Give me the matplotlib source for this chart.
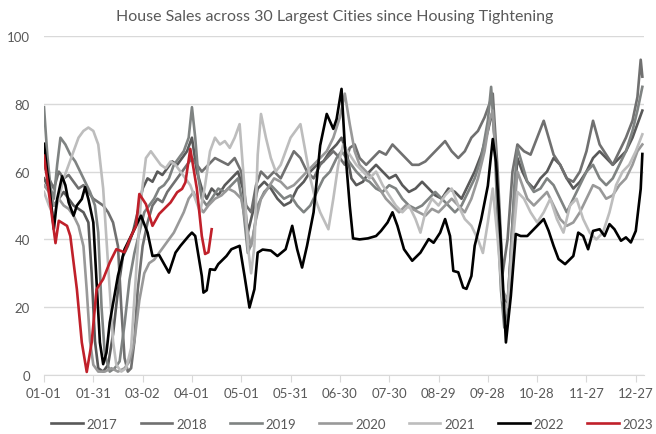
import matplotlib
matplotlib.use("Agg")
import matplotlib.pyplot as plt

plt.rcParams['font.family'] = ['Lato', 'DejaVu Sans']

title = "House Sales across 30 Largest Cities since Housing Tightening"
tick_days = [0, 30, 60, 90, 120, 150, 180, 210, 240, 270, 300, 330, 360]
tick_labels = ['01-01', '01-31', '03-02', '04-01', '05-01', '05-31', '06-30',
               '07-30', '08-29', '09-28', '10-28', '11-27', '12-27']
years = ['2017', '2018', '2019', '2020', '2021', '2022', '2023']
colors = ['#595959', '#707070', '#7f8382', '#999999', '#bdbdbd', '#000000', '#c0202a']

# ---- series: (day of year, value) key points ----
d2017 = [0, 3, 6, 9, 12, 15, 18, 21, 24, 27, 29, 31, 33, 36, 39, 42, 45, 48, 51, 54, 57, 60, 63, 66, 69, 72, 75, 78, 81, 84, 87, 90, 93, 96, 99, 102, 106, 110, 114, 118, 121, 124, 127, 130, 134, 138, 142, 146, 150, 154, 158, 162, 166, 170, 174, 178, 181, 184, 187, 190, 194, 198, 202, 206, 210, 214, 218, 222, 226, 230, 234, 238, 242, 246, 250, 254, 258, 262, 266, 270, 273, 276, 279, 282, 285, 288, 291, 294, 298, 302, 306, 310, 314, 318, 322, 326, 330, 334, 338, 342, 346, 350, 354, 358, 361, 364]
v2017 = [58, 55, 50, 52, 54, 52, 50, 49, 48, 45, 30, 10, 2, 1, 3, 12, 25, 35, 38, 42, 48, 55, 58, 57, 60, 59, 61, 63, 62, 64, 66, 70, 60, 55, 52, 55, 53, 56, 58, 60, 55, 42, 48, 55, 57, 55, 52, 50, 51, 55, 57, 60, 62, 63, 66, 68, 70, 66, 58, 56, 57, 60, 62, 60, 58, 59, 56, 54, 55, 57, 55, 53, 52, 55, 54, 52, 56, 60, 65, 72, 78, 55, 25, 20, 45, 64, 60, 57, 55, 58, 60, 64, 62, 58, 55, 57, 60, 64, 66, 64, 62, 64, 66, 70, 74, 78]

d2018 = [0, 3, 6, 9, 12, 15, 18, 21, 24, 27, 30, 33, 36, 39, 42, 45, 47, 49, 51, 53, 55, 57, 60, 63, 66, 69, 72, 75, 78, 81, 84, 87, 90, 93, 96, 100, 104, 108, 112, 116, 120, 123, 126, 129, 132, 136, 140, 144, 148, 152, 156, 160, 164, 168, 172, 176, 180, 183, 186, 189, 192, 196, 200, 204, 208, 212, 216, 220, 224, 228, 232, 236, 240, 244, 248, 252, 256, 260, 264, 268, 271, 273, 276, 279, 282, 285, 288, 292, 296, 300, 304, 307, 310, 314, 318, 322, 326, 330, 334, 338, 342, 346, 350, 354, 358, 361, 363, 364]
v2018 = [62, 58, 55, 60, 58, 59, 57, 55, 56, 54, 52, 51, 50, 48, 45, 38, 20, 5, 1, 2, 10, 25, 38, 45, 50, 52, 51, 54, 56, 58, 60, 62, 64, 62, 60, 62, 64, 63, 62, 64, 60, 50, 48, 56, 60, 58, 60, 58, 62, 66, 64, 60, 58, 62, 64, 66, 64, 62, 67, 68, 64, 62, 64, 66, 65, 68, 66, 64, 62, 62, 63, 65, 67, 69, 66, 64, 66, 70, 72, 76, 80, 83, 60, 30, 40, 60, 68, 66, 65, 70, 75, 70, 65, 62, 58, 57, 60, 66, 75, 68, 65, 62, 66, 70, 75, 82, 93, 88]

d2019 = [0, 2, 4, 6, 8, 10, 13, 16, 19, 22, 25, 28, 31, 33, 35, 37, 40, 43, 46, 49, 52, 55, 58, 61, 64, 67, 70, 73, 76, 79, 82, 85, 88, 90, 92, 94, 96, 99, 102, 106, 110, 114, 118, 121, 124, 127, 130, 134, 138, 142, 146, 150, 154, 158, 162, 166, 170, 174, 178, 181, 184, 187, 190, 194, 198, 202, 206, 210, 214, 218, 222, 226, 230, 234, 238, 242, 246, 250, 254, 258, 262, 266, 270, 272, 274, 276, 278, 280, 282, 284, 286, 288, 291, 294, 298, 302, 306, 310, 314, 318, 322, 326, 330, 334, 338, 342, 346, 350, 354, 358, 361, 364]
v2019 = [79, 65, 55, 52, 62, 70, 68, 65, 63, 60, 57, 54, 50, 42, 20, 6, 1, 2, 4, 15, 28, 36, 42, 48, 50, 52, 55, 56, 58, 62, 64, 66, 70, 79, 70, 58, 52, 50, 52, 55, 54, 56, 58, 50, 36, 40, 50, 54, 56, 54, 52, 53, 50, 48, 50, 54, 58, 60, 64, 66, 64, 62, 60, 58, 57, 55, 54, 56, 55, 52, 50, 49, 50, 52, 54, 52, 50, 48, 50, 54, 58, 64, 75, 85, 70, 45, 25, 14, 18, 35, 55, 67, 62, 57, 54, 55, 58, 56, 52, 48, 52, 56, 60, 62, 58, 56, 58, 62, 66, 72, 78, 85]

d2020 = [0, 3, 6, 9, 12, 15, 18, 21, 24, 26, 28, 30, 33, 37, 41, 45, 49, 52, 55, 58, 61, 64, 67, 70, 73, 76, 79, 82, 85, 88, 91, 94, 97, 100, 104, 108, 112, 116, 120, 123, 126, 129, 132, 136, 140, 144, 148, 152, 156, 160, 164, 168, 172, 176, 180, 183, 186, 189, 192, 196, 200, 204, 208, 212, 216, 220, 224, 228, 232, 236, 240, 244, 248, 252, 256, 260, 264, 268, 271, 273, 276, 279, 282, 285, 288, 291, 294, 298, 302, 306, 310, 314, 318, 322, 326, 330, 334, 338, 342, 346, 350, 354, 358, 361, 364]
v2020 = [56, 54, 50, 52, 50, 49, 47, 44, 38, 25, 10, 3, 1, 1, 2, 1, 2, 4, 10, 22, 30, 33, 34, 36, 38, 40, 42, 45, 48, 52, 54, 50, 48, 50, 52, 53, 55, 54, 52, 44, 38, 46, 52, 55, 58, 57, 55, 56, 58, 60, 62, 64, 66, 70, 76, 83, 74, 66, 62, 60, 58, 55, 52, 50, 48, 50, 49, 48, 47, 49, 48, 50, 52, 50, 48, 52, 58, 66, 75, 78, 55, 25, 22, 42, 60, 56, 52, 50, 52, 54, 50, 46, 44, 45, 48, 52, 56, 55, 52, 53, 56, 58, 62, 66, 68]

d2021 = [0, 3, 6, 9, 12, 15, 18, 21, 24, 27, 30, 33, 36, 38, 40, 42, 44, 47, 50, 53, 56, 59, 62, 65, 68, 71, 74, 77, 80, 83, 86, 89, 92, 95, 98, 101, 104, 107, 110, 113, 116, 119, 122, 124, 126, 128, 130, 132, 135, 138, 141, 144, 147, 150, 153, 156, 159, 162, 165, 168, 171, 173, 176, 179, 182, 186, 190, 194, 198, 202, 206, 210, 214, 218, 222, 226, 229, 232, 236, 240, 244, 248, 252, 256, 260, 264, 267, 270, 273, 276, 279, 282, 285, 288, 292, 296, 300, 304, 308, 312, 316, 320, 324, 328, 332, 336, 340, 344, 348, 352, 356, 360, 364]
v2021 = [54, 50, 47, 52, 58, 62, 66, 70, 72, 73, 72, 68, 55, 40, 25, 10, 3, 1, 2, 8, 30, 52, 64, 66, 64, 62, 61, 63, 62, 60, 58, 56, 52, 48, 56, 66, 70, 68, 69, 67, 70, 74, 55, 38, 30, 38, 65, 77, 70, 64, 60, 62, 66, 70, 72, 74, 66, 58, 52, 48, 45, 43, 52, 62, 68, 65, 62, 60, 58, 60, 56, 53, 50, 48, 50, 46, 42, 48, 52, 50, 53, 55, 50, 46, 44, 40, 36, 45, 55, 40, 22, 20, 38, 54, 52, 48, 45, 48, 52, 46, 42, 50, 52, 46, 42, 40, 42, 48, 56, 60, 62, 66, 71]

d2022 = [0, 2, 3, 6, 8, 11, 13, 15, 18, 20, 23, 25, 27, 30, 32, 34, 36, 38, 40, 45, 49, 55, 59, 63, 66, 70, 76, 80, 83, 88, 90, 92, 94, 96, 97, 99, 101, 104, 106, 111, 114, 116, 119, 122, 125, 128, 130, 133, 138, 142, 147, 151, 154, 157, 160, 164, 168, 172, 176, 178, 181, 183, 186, 188, 192, 197, 202, 205, 209, 212, 215, 219, 224, 229, 234, 237, 241, 244, 247, 249, 252, 255, 257, 260, 262, 266, 270, 273, 275, 278, 281, 284, 287, 290, 294, 298, 301, 304, 307, 310, 313, 317, 322, 325, 328, 331, 334, 338, 341, 344, 347, 351, 354, 357, 360, 363, 364]
v2022 = [68.2, 59.8, 56.8, 43, 51.9, 58.6, 56, 50.9, 47, 50, 51.9, 55.4, 51.9, 45, 27.3, 9.6, 3.2, 6.6, 15.5, 29.3, 37.1, 43, 47, 42, 35.1, 35.4, 30.2, 36.1, 38.1, 41, 42, 41, 35.1, 29.2, 24.3, 25, 31.2, 31, 32.7, 35.1, 37.1, 37.5, 38.1, 29.2, 19.9, 25.3, 36.1, 37, 36.7, 35.1, 37.1, 44, 37.1, 31.7, 38.1, 48, 67.7, 77, 72.6, 75.5, 84.4, 67.6, 49.9, 40.3, 40, 40.3, 41, 42.5, 45, 48, 44, 37.1, 33.7, 36.1, 40.1, 39, 42, 46, 41, 30.7, 30.3, 25.8, 25.4, 29.2, 38.1, 46, 55.8, 69.6, 62.7, 38.1, 9.6, 23.3, 41.6, 41, 41, 43, 44.5, 46, 42.5, 38.1, 34.2, 32.7, 35.1, 42, 41, 37.1, 42.5, 43, 41, 44.5, 43, 39.6, 40.6, 39.1, 42.5, 54.9, 65.2]

d2023 = [0, 7, 9, 14, 16, 20, 23, 26, 29, 32, 36, 40, 44, 49, 53, 56, 58, 62, 66, 70, 77, 81, 84, 86, 89, 93, 96, 98, 100, 102]
v2023 = [64.7, 38.9, 45.5, 44, 41, 25.3, 9.6, 0.9, 9.6, 25.3, 28.3, 33.2, 37.1, 36.2, 41, 44, 53.4, 50.4, 44, 47.5, 50.9, 53.9, 54.9, 56.8, 66.7, 54.9, 41, 35.7, 36.2, 43]

series_days = [d2017, d2018, d2019, d2020, d2021, d2022, d2023]
series_vals = [v2017, v2018, v2019, v2020, v2021, v2022, v2023]

W, H = 656, 435
fig = plt.figure(figsize=(W / 100, H / 100), dpi=100)
ax = fig.add_axes([44 / W, 1 - 376 / H, 600 / W, 339 / H])

for yr, c, dd, vv in zip(years, colors, series_days, series_vals):
    ax.plot(dd, vv, color=c, lw=1.9, label=yr, solid_joinstyle='round')

ax.set_xlim(0, 365)
ax.set_ylim(0, 100)
ax.set_yticks(range(0, 101, 20))
ax.set_xticks(tick_days)
ax.set_xticklabels(tick_labels)
ax.grid(axis='y', color='#d9d9d9', lw=1)
ax.set_axisbelow(True)
for s in ['top', 'right', 'left']:
    ax.spines[s].set_visible(False)
ax.spines['bottom'].set_color('#d9d9d9')
ax.tick_params(axis='y', length=0, pad=10, labelsize=9.5, labelcolor='#595959')
ax.tick_params(axis='x', length=5, color='#d9d9d9', pad=4, labelsize=9.5, labelcolor='#595959')

fig.text(0.51, 1 - 17 / H, title, ha='center', va='center', fontsize=11.5, color='#595959')

fig.legend(loc='center', bbox_to_anchor=(0.537, 1 - 425 / H), ncol=7, frameon=False,
           fontsize=9.5, labelcolor='#595959', handlelength=2.4, columnspacing=1.75,
           handletextpad=0.3)

fig.savefig('out.png', dpi=100)
